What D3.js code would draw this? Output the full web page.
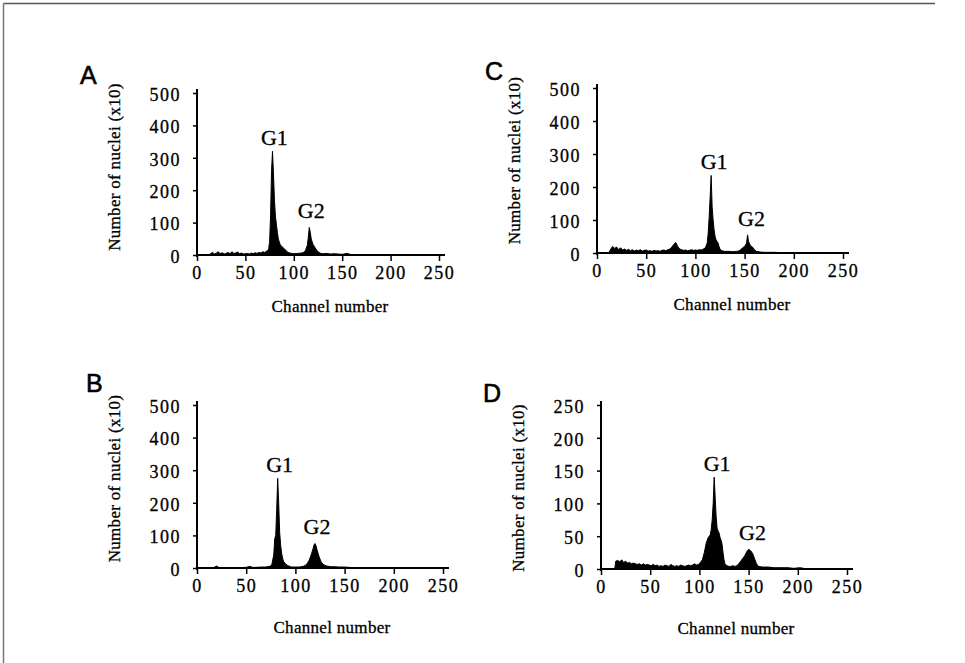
<!DOCTYPE html>
<html>
<head>
<meta charset="utf-8">
<script src="https://cdn.jsdelivr.net/npm/d3@7"></script>
<style>
  body { margin: 0; background: #fff; }
  .tick text { font-family: "Liberation Serif", serif; font-size: 18px; letter-spacing: 1.5px; stroke: #000; stroke-width: 0.3px; }
  .axtitle { font-family: "Liberation Serif", serif; font-size: 17px; letter-spacing: 0.3px; stroke: #000; stroke-width: 0.3px; }
  .peak { font-family: "Liberation Serif", serif; font-size: 22px; stroke: #000; stroke-width: 0.3px; }
  .letter { font-family: "Liberation Sans", Arial, sans-serif; font-size: 25px; stroke: #000; stroke-width: 0.6px; }
</style>
</head>
<body>
<script>

/* data: [channel, count] */

var histA = [[0,0],[12,0],[14,4],[16,8],[18,3],[20,6],[22,10],[24,4],[26,7],[28,3],[30,5],[32,8],[34,4],[36,10],[38,5],[40,6],[42,9],[44,4],[46,6],[48,3],[50,4],[52,5],[54,3],[56,6],[58,4],[60,7],[62,5],[64,8],[66,6],[68,10],[70,8],[72,12],[74,18],[75,40],[76,120],[77,260],[78,320],[79,250],[80,170],[81,120],[82,95],[83,70],[84,50],[85,40],[86,32],[88,25],[90,20],[92,14],[94,8],[96,6],[98,5],[100,4],[104,5],[108,6],[110,8],[112,14],[114,30],[115,55],[116,85],[117,70],[118,50],[119,40],[120,32],[122,22],[124,14],[126,8],[128,5],[130,4],[134,5],[138,3],[142,4],[146,3],[150,2],[155,5],[158,2],[162,1],[170,0],[250,0]];

var histB = [[0,0],[16,0],[18,3],[20,6],[22,2],[24,1],[30,1],[40,1],[50,2],[54,5],[56,2],[60,2],[66,3],[70,3],[74,5],[76,10],[78,40],[79,90],[80,100],[81,180],[82,275],[83,200],[84,110],[85,70],[86,45],[87,30],[88,20],[90,12],[92,8],[94,5],[96,3],[100,3],[104,3],[108,5],[110,8],[112,14],[114,24],[116,40],[118,60],[119,72],[120,75],[121,68],[122,55],[124,35],[126,20],[128,12],[130,8],[132,6],[136,4],[140,4],[144,3],[150,3],[154,2],[160,1],[170,0],[250,0]];

var histC = [[0,0],[12,0],[14,12],[16,20],[18,14],[20,18],[22,10],[24,16],[26,9],[28,12],[30,8],[32,11],[34,7],[36,10],[38,6],[40,9],[42,7],[44,10],[46,6],[48,8],[50,9],[52,6],[54,7],[56,5],[58,8],[60,6],[62,7],[64,5],[66,8],[68,9],[70,7],[72,10],[74,12],[76,18],[78,26],[80,32],[82,20],[84,12],[86,10],[88,8],[90,9],[92,7],[94,8],[96,10],[98,8],[100,9],[102,8],[104,10],[106,9],[108,12],[110,15],[112,30],[113,60],[114,110],[115,170],[116,235],[117,140],[118,100],[119,70],[120,50],[121,40],[122,35],[123,30],[124,20],[125,12],[126,8],[128,6],[130,5],[134,5],[138,4],[142,5],[144,6],[146,10],[148,16],[150,20],[152,30],[153,55],[154,35],[156,22],[158,18],[160,10],[162,5],[166,3],[170,2],[180,2],[190,1],[200,0],[250,0]];

var histD = [[0,0],[14,0],[15,12],[17,13],[19,11],[21,14],[23,10],[25,12],[27,9],[29,10],[31,8],[33,9],[35,8],[37,7],[39,8],[41,6],[43,8],[45,6],[47,7],[49,6],[51,5],[53,7],[55,5],[57,6],[59,4],[61,5],[63,4],[65,6],[67,5],[69,4],[71,7],[73,5],[75,4],[77,5],[79,4],[81,6],[83,5],[85,4],[87,5],[89,6],[91,5],[93,6],[95,8],[97,6],[99,7],[101,10],[103,14],[105,25],[107,40],[109,48],[111,52],[112,60],[113,75],[114,100],[115,140],[116,110],[117,80],[118,62],[119,58],[120,55],[121,48],[122,44],[123,38],[124,25],[125,14],[126,8],[128,5],[130,4],[132,4],[134,5],[136,4],[138,5],[140,8],[142,12],[144,16],[146,20],[148,26],[150,30],[152,28],[154,24],[156,16],[158,8],[160,4],[164,3],[170,3],[176,2],[182,2],[190,2],[196,1],[202,2],[206,1],[210,0],[250,0]];

var xTicks = [0, 50, 100, 150, 200, 250];
var yTicks500 = [0, 100, 200, 300, 400, 500];
var yTicks250 = [0, 50, 100, 150, 200, 250];

// peak label positions [channel, count]
var peaksA = { g1: [80, 320], g2: [118, 90] };
var peaksB = { g1: [84, 275], g2: [122, 80] };
var peaksC = { g1: [119, 235], g2: [157, 58] };
var peaksD = { g1: [118, 140], g2: [154, 32] };


/* canvas */

var width = 965, height = 663;

var svg = d3.select('body').append('svg')
  .attr('width', width)
  .attr('height', height);

// page border (top and left only, like the scan)
svg.append('line').attr('x1', 3.5).attr('y1', 3.5).attr('x2', 935).attr('y2', 3.5)
  .attr('stroke', '#555').attr('stroke-width', 1.5);
svg.append('line').attr('x1', 3.5).attr('y1', 3.5).attr('x2', 3.5).attr('y2', height)
  .attr('stroke', '#777').attr('stroke-width', 1.5);

var panels = [
  { letter: 'A', data: histA, peaks: peaksA, yMax: 500, yTicks: yTicks500, left: 197, right: 439, bottom: 255, top: 93, lx: 80, ly: 84, ty: -7 },
  { letter: 'C', data: histC, peaks: peaksC, yMax: 500, yTicks: yTicks500, left: 597, right: 843, bottom: 253, top: 88, lx: 485, ly: 80, ty: -10 },
  { letter: 'B', data: histB, peaks: peaksB, yMax: 500, yTicks: yTicks500, left: 197, right: 443, bottom: 568, top: 405, lx: 86, ly: 392, ty: -8 },
  { letter: 'D', data: histD, peaks: peaksD, yMax: 250, yTicks: yTicks250, left: 601, right: 847, bottom: 569, top: 405, lx: 483, ly: 402, ty: 1 }
];

panels.forEach(function (p) {
  var x = d3.scaleLinear().domain([0, 250]).range([p.left, p.right]);
  var y = d3.scaleLinear().domain([0, p.yMax]).range([p.bottom, p.top]);

  var g = svg.append('g');

  // histogram fill
  var area = d3.area()
    .x(function (d) { return x(d[0]); })
    .y0(y(0))
    .y1(function (d) { return y(d[1]); });

  g.append('path')
    .datum(p.data)
    .attr('d', area)
    .attr('fill', '#000')
    .attr('stroke', '#000')
    .attr('stroke-width', 1);

  // x axis
  var xAxis = g.append('g')
    .attr('transform', 'translate(0,' + p.bottom + ')')
    .call(d3.axisBottom(x).tickValues(xTicks).tickSize(6).tickSizeOuter(0).tickPadding(5));
  xAxis.select('.domain').attr('stroke-width', 2).attr('d', 'M' + p.left + ',0H' + (p.right + 6));
  xAxis.selectAll('.tick line').attr('stroke-width', 1.5);

  // y axis
  var yAxis = g.append('g')
    .attr('transform', 'translate(' + p.left + ',0)')
    .call(d3.axisLeft(y).tickValues(p.yTicks).tickSize(4).tickSizeOuter(0).tickPadding(12));
  yAxis.select('.domain').attr('stroke-width', 2).attr('d', 'M0,' + (p.top - 4) + 'V' + (p.bottom + 2));
  yAxis.selectAll('.tick line').attr('stroke-width', 1.5);
  yAxis.selectAll('.tick text').attr('dy', '0.4em');

  // axis titles
  var midX = (p.left + p.right) / 2 + 12;
  g.append('text')
    .attr('class', 'axtitle')
    .attr('x', midX)
    .attr('y', p.bottom + (p.letter === 'A' || p.letter === 'C' ? 57 : 65))
    .attr('text-anchor', 'middle')
    .text('Channel number');

  g.append('text')
    .attr('class', 'axtitle')
    .attr('transform', 'translate(' + (p.left - 77) + ',' + ((p.top + p.bottom) / 2 + p.ty) + ') rotate(-90)')
    .attr('text-anchor', 'middle')
    .text('Number of nuclei (x10)');

  // peak labels
  g.append('text').attr('class', 'peak')
    .attr('x', x(p.peaks.g1[0])).attr('y', y(p.peaks.g1[1]) - 6)
    .attr('text-anchor', 'middle').text('G1');
  g.append('text').attr('class', 'peak')
    .attr('x', x(p.peaks.g2[0])).attr('y', y(p.peaks.g2[1]) - 8)
    .attr('text-anchor', 'middle').text('G2');

  // panel letter
  svg.append('text').attr('class', 'letter')
    .attr('x', p.lx).attr('y', p.ly).text(p.letter);
});

</script>
</body>
</html>
